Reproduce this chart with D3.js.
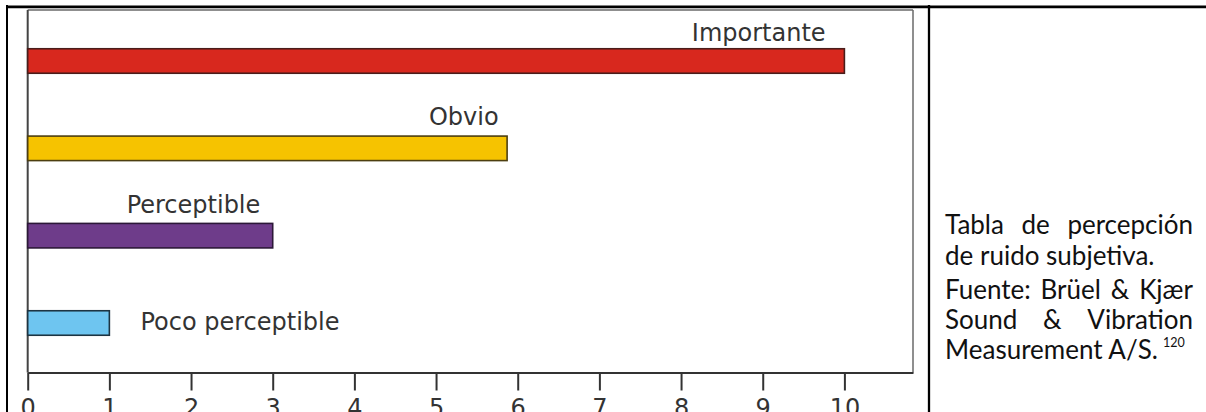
<!DOCTYPE html>
<html><head><meta charset="utf-8">
<script src="https://cdn.jsdelivr.net/npm/d3@7"></script>
<style>html,body{margin:0;padding:0;background:#fff;overflow:hidden}</style>
</head><body><svg id="c" width="1206" height="412"></svg>
<script>
// ---- data ----
const categories = ["Importante", "Obvio", "Perceptible", "Poco perceptible"];
const values = [10, 5.87, 3.0, 1.0];
const tickValues = [0, 1, 2, 3, 4, 5, 6, 7, 8, 9, 10];
const captionLines = ["Tabla de percepción", "de ruido subjetiva."];
const sourceLines = ["Fuente: Brüel & Kjær", "Sound & Vibration", "Measurement A/S."];
const sourceRef = "120";

// ---- styles / layout ----
const fills = ["#d8281e", "#f6c300", "#6e3c8a", "#6ec5f0"];
const strokes = ["#4a1d1a", "#4d3f10", "#2c1838", "#1d3442"];
const labelLayout = [
  {anchor: "end", at: 9.77, dy: -20},
  {anchor: "middle", at: 5.34, dy: -23},
  {anchor: "middle", at: 2.03, dy: -22.7},
  {anchor: "start", at: 1.38, dy: 7}
];
const labelFont = "'DejaVu Sans', sans-serif";
const noteFont = "Lato, 'Open Sans', sans-serif";

const svg = d3.select("#c");
const x = d3.scaleLinear().domain([0, 10.84]).range([27.7, 913]);
const y = d3.scalePoint().domain(categories).range([61, 323]);
const barH = 24.5;
const axisY = 372.5, frameTop = 10;

// outer table lines
svg.append("line").attr("x1", 7).attr("x2", 7).attr("y1", 5).attr("y2", 412).attr("stroke", "#000").attr("stroke-width", 2);
svg.append("line").attr("x1", 6).attr("x2", 1206).attr("y1", 6.8).attr("y2", 6.8).attr("stroke", "#000").attr("stroke-width", 2.8);
svg.append("line").attr("x1", 929).attr("x2", 929).attr("y1", 5).attr("y2", 412).attr("stroke", "#000").attr("stroke-width", 2.3);

// chart frame
svg.append("line").attr("x1", x(0)).attr("x2", x(10.84)).attr("y1", frameTop).attr("y2", frameTop).attr("stroke", "#6a6a6a").attr("stroke-width", 1.5);
svg.append("line").attr("x1", x(10.84)).attr("x2", x(10.84)).attr("y1", frameTop).attr("y2", axisY).attr("stroke", "#6a6a6a").attr("stroke-width", 1.5);
svg.append("line").attr("x1", x(0)).attr("x2", x(0)).attr("y1", frameTop).attr("y2", axisY).attr("stroke", "#444").attr("stroke-width", 2);

// bars
svg.append("g").selectAll("rect").data(categories).join("rect")
  .attr("x", x(0))
  .attr("y", d => y(d) - barH / 2)
  .attr("width", (d, i) => x(values[i]) - x(0))
  .attr("height", barH)
  .attr("fill", (d, i) => fills[i])
  .attr("stroke", (d, i) => strokes[i])
  .attr("stroke-width", 1.6);

// bar labels
svg.append("g").selectAll("text").data(categories).join("text")
  .attr("x", (d, i) => x(labelLayout[i].at))
  .attr("y", (d, i) => y(d) + labelLayout[i].dy)
  .attr("text-anchor", (d, i) => labelLayout[i].anchor)
  .attr("font-family", labelFont)
  .attr("font-size", 24)
  .attr("fill", "#333")
  .text(d => d);

// axis
const axis = d3.axisBottom(x).tickValues(tickValues).tickSize(18).tickSizeOuter(0).tickPadding(8.5);
const ag = svg.append("g").attr("transform", `translate(0,${axisY})`).call(axis);
ag.select(".domain").attr("stroke", "#333").attr("stroke-width", 2);
ag.selectAll(".tick line").attr("stroke", "#333").attr("stroke-width", 2);
ag.selectAll(".tick text").attr("font-family", labelFont).attr("font-size", 24).attr("fill", "#333");

// right-hand note, justified
const noteX0 = 945, noteX1 = 1193, noteSize = 26;
function drawLine(str, baseline, justify) {
  if (!justify) {
    return svg.append("text").attr("x", noteX0).attr("y", baseline)
      .attr("font-family", noteFont).attr("font-size", noteSize).attr("fill", "#111").text(str);
  }
  const words = str.split(" ");
  const nodes = words.map(w => svg.append("text").attr("y", baseline)
    .attr("font-family", noteFont).attr("font-size", noteSize).attr("fill", "#111").text(w));
  const widths = nodes.map(n => n.node().getComputedTextLength());
  const gap = (noteX1 - noteX0 - d3.sum(widths)) / (words.length - 1);
  let cx = noteX0;
  nodes.forEach((n, i) => { n.attr("x", cx); cx += widths[i] + gap; });
}
const capBase = [234, 265];
const srcBase = [299, 329, 359];
captionLines.forEach((l, i) => drawLine(l, capBase[i], i < captionLines.length - 1));
let last;
sourceLines.forEach((l, i) => {
  const t = drawLine(l, srcBase[i], i < sourceLines.length - 1);
  if (t) last = t;
});
const lw = last.node().getComputedTextLength();
svg.append("text").attr("x", noteX0 + lw + 5).attr("y", srcBase[2] - 12)
  .attr("font-family", noteFont).attr("font-size", 12.5).attr("fill", "#111").text(sourceRef);
</script>
</body></html>
